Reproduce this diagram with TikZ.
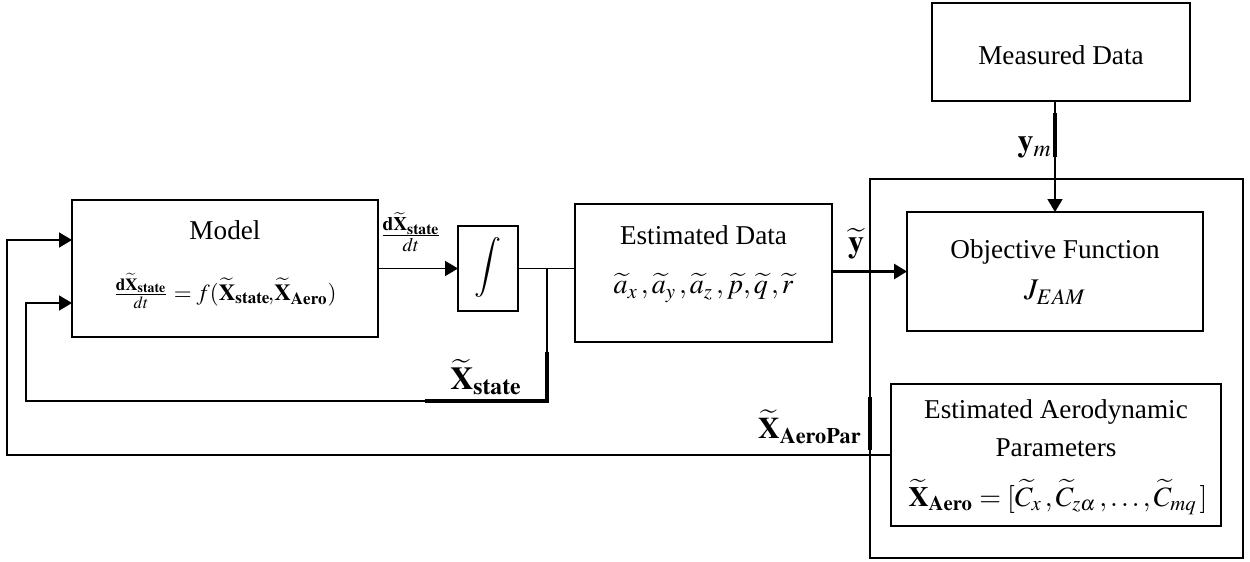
\documentclass[tikz,border=0pt]{standalone}
\usepackage{mathptmx}
\usepackage{fontspec}
\setmainfont{Liberation Serif}
\usetikzlibrary{arrows.meta}
\begin{document}
\begin{tikzpicture}[x=0.5pt,y=-0.5pt,
  box/.style={draw,line width=0.9pt,inner sep=0pt,outer sep=0pt},
  arr/.style={line width=0.9pt,-{Triangle[length=6.5pt,width=7.5pt]}},
  wire/.style={line width=0.9pt},
  heavy/.style={line width=1.8pt},
  lbl/.style={inner sep=0pt,font=\fontsize{13.6pt}{18pt}\selectfont},
  mlbl/.style={inner sep=0pt,font=\fontsize{14pt}{18pt}\selectfont}]
\useasboundingbox (0,0) rectangle (1250,562);
% boxes
\node[box,minimum width=186.5pt,minimum height=189.5pt] (outer) at (1056.5,368.5) {};
\node[box,minimum width=153pt,minimum height=68.5pt] (model) at (225,268.5) {};
\node[box,minimum width=30pt,minimum height=42.5pt] (integ) at (488,268.5) {};
\node[box,minimum width=128.5pt,minimum height=69pt] (est) at (703.5,273) {};
\node[box,minimum width=129pt,minimum height=49pt] (meas) at (1061,52) {};
\node[box,minimum width=148pt,minimum height=59.5pt] (obj) at (1055,271.5) {};
\node[box,minimum width=165pt,minimum height=71pt] (aero) at (1056,455) {};
% texts
\node[lbl] (tmodel) at (225,230) {Model};
\node[inner sep=0pt,font=\fontsize{11.5pt}{14pt}\selectfont] (teq) at (225,291)
  {$\frac{\mathbf{d}\widetilde{\mathbf{X}}_{\mathbf{state}}}{dt} = f(\widetilde{\mathbf{X}}_{\mathbf{state}}\!,\!\widetilde{\mathbf{X}}_{\mathbf{Aero}})$};
\node[inner sep=0pt,font=\fontsize{13pt}{14pt}\selectfont] (tdx) at (411,232)
  {$\frac{\mathbf{d}\widetilde{\mathbf{X}}_{\mathbf{state}}}{dt}$};
\node[inner sep=0pt,font=\fontsize{15pt}{18pt}\selectfont] (tint) at (488,267) {$\displaystyle\int$};
\node[lbl] (test) at (703.5,235) {Estimated Data};
\node[mlbl] (testm) at (703.5,288)
  {$\widetilde{a}_x\,,\widetilde{a}_y\,,\widetilde{a}_z\,,\widetilde{p},\widetilde{q}\,,\widetilde{r}$};
\node[inner sep=0pt,font=\fontsize{16pt}{18pt}\selectfont] (ty) at (856,244) {$\widetilde{\mathbf{y}}$};
\node[lbl] (tmeas) at (1061,55) {Measured Data};
\node[inner sep=0pt,font=\fontsize{16pt}{18pt}\selectfont,anchor=east] (tym) at (1052,147) {$\mathbf{y}_{m}$};
\node[lbl] (tobj) at (1055,252) {Objective Function};
\node[inner sep=0pt,font=\fontsize{15pt}{18pt}\selectfont] (tj) at (1055,292) {$J_{EAM}$};
\node[lbl] (ta1) at (1056,412) {Estimated Aerodynamic};
\node[lbl] (ta2) at (1056,448) {Parameters};
\node[mlbl] (ta3) at (1058,497)
  {$\widetilde{\mathbf{X}}_{\mathbf{Aero}}=[\widetilde{C}_x\,,\widetilde{C}_{z\alpha}\,,\dots,\widetilde{C}_{mq}\,]$};
\node[inner sep=0pt,font=\fontsize{15pt}{18pt}\selectfont,anchor=east] (txa) at (862,427) {$\widetilde{\mathbf{X}}_{\mathbf{AeroPar}}$};
\node[inner sep=0pt,font=\fontsize{16pt}{18pt}\selectfont] (txs) at (486,377) {$\widetilde{\mathbf{X}}_{\mathbf{state}}$};
% coordinates
\coordinate (br) at (547,268.5);
\coordinate (b2) at (26,401);
\coordinate (b3) at (26,303);
\coordinate (a1) at (7,240);
% connectors
\draw[arr] (model.east) -- (integ.west);
\draw[wire] (integ.east) -- (integ.east -| est.west);
\draw[arr] (br) |- (b2) |- (model.west |- b3);
\draw[arr] (aero.west) -| (a1) -- (model.west |- a1);
\draw[arr,line width=1.4pt] (est.east |- obj.west) -- (obj.west);
\draw[arr] (meas.south -| obj.north) -- (obj.north);
% heavier segments
\coordinate (h1) at (1055,113); \coordinate (h2) at (1055,157);
\draw[heavy] (h1) -- (h2);
\coordinate (h3) at (870,397); \coordinate (h4) at (870,450);
\draw[heavy] (h3) -- (h4);
\coordinate (h5) at (547,352); \coordinate (h6) at (425,401);
\draw[heavy] (h5) |- (h6);
\end{tikzpicture}
\end{document}
